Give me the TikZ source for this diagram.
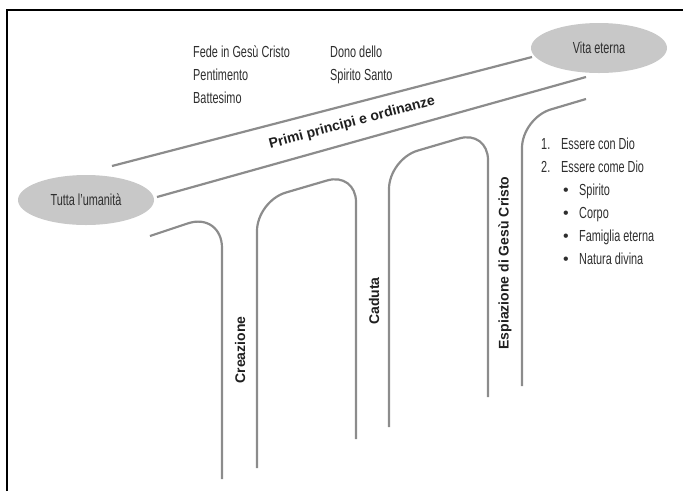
\documentclass[tikz,border=0pt]{standalone}
\usepackage{fontspec}
\setmainfont{Liberation Sans}
\newfontfamily\condfont{Liberation Sans}[FakeStretch=0.68]
\usetikzlibrary{shapes.geometric}
\definecolor{linegray}{HTML}{8C8C8C}
\definecolor{ellgray}{HTML}{C8C8C8}
\definecolor{txtgray}{HTML}{2E2E2E}
\begin{document}
\begin{tikzpicture}[x=1pt,y=-1pt,
  track/.style={draw=linegray, line width=2.2pt},
  archline/.style={track, rounded corners=30pt},
  goal/.style={ellipse, fill=ellgray, inner sep=0pt, minimum width=136pt, minimum height=50pt,
    font=\condfont\fontsize{16}{19}\selectfont, text=txtgray},
  lbl/.style={anchor=base west, inner sep=0pt, font=\condfont\fontsize{16}{19}\selectfont, text=txtgray},
  bul/.style={anchor=base west, inner sep=0pt, font=\normalfont\fontsize{16}{19}\selectfont, text=txtgray},
  boldlbl/.style={inner sep=0pt, font=\bfseries\fontsize{14}{17}\selectfont, text=black!88}
]
\useasboundingbox (0,0) rectangle (683,491);
% frame
\draw[line width=1.2pt] (7,491) -- (7,10) -- (683,10);

% goals
\node[goal] (tutta) at (86,200) {Tutta l’umanità};
\node[goal] (vita) at (599,48) {Vita eterna};

% main path
\coordinate (ua) at (112,166);
\coordinate (ub) at (532,57);
\coordinate (la) at (157,197);
\coordinate (lb) at (586,77);
\draw[track] (ua) -- (ub);
\draw[track] (la) -- (lb);
\node[boldlbl, rotate=15] (primi) at (352,123) {Primi principi e ordinanze};

% arches
\draw[archline, rounded corners=36pt] (150,236) -- (222,212) -- (222,479);
\draw[archline] (257,468) -- (257,201) -- (356,172) -- (356,439);
\draw[archline] (389,427) -- (389,159) -- (488,130) -- (488,397);
\draw[archline] (522,386) -- (522,118) -- (586,99);

% vertical labels
\node[boldlbl, rotate=90] (crea) at (240,350) {Creazione};
\node[boldlbl, rotate=90] (cad) at (374,301) {Caduta};
\node[boldlbl, rotate=90] (espi) at (505,263) {Espiazione di Gesù Cristo};

% principles
\node[lbl] (fede) at (193,57) {Fede in Gesù Cristo};
\node[lbl] (pent) at (193,80) {Pentimento};
\node[lbl] (batt) at (193,103) {Battesimo};
\node[lbl] (dono) at (330,57) {Dono dello};
\node[lbl] (spss) at (330,80) {Spirito Santo};

% goals list
\node[lbl] (n1) at (541,149) {1.};
\node[lbl] (e1) at (561,149) {Essere con Dio};
\node[lbl] (n2) at (541,172) {2.};
\node[lbl] (e2) at (561,172) {Essere come Dio};
\node[bul] (b1) at (563,195) {•};
\node[lbl] (s1) at (579,195) {Spirito};
\node[bul] (b2) at (563,218) {•};
\node[lbl] (s2) at (579,218) {Corpo};
\node[bul] (b3) at (563,241) {•};
\node[lbl] (s3) at (579,241) {Famiglia eterna};
\node[bul] (b4) at (563,264) {•};
\node[lbl] (s4) at (579,264) {Natura divina};
\end{tikzpicture}
\end{document}
